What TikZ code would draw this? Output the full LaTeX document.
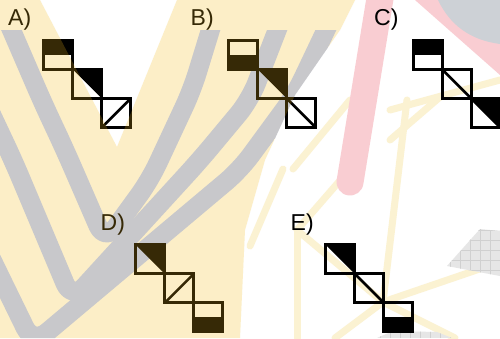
\documentclass[tikz,border=0pt]{standalone}
\usepackage{fontspec}
\setmainfont{Liberation Sans}
\definecolor{ybase}{RGB}{253,252,247}
\definecolor{gbase}{RGB}{186,203,252}
\definecolor{golden}{RGB}{250,190,30}
\definecolor{pinkbg}{RGB}{249,205,210}
\definecolor{graytr}{RGB}{205,209,214}
\definecolor{yline}{RGB}{251,242,210}
\definecolor{gridfill}{RGB}{230,230,230}
\definecolor{gridline}{RGB}{208,208,208}
\begin{document}
\begin{tikzpicture}[x=1pt,y=-1pt,
  sq/.style={draw=black, line width=3pt, minimum size=29pt, inner sep=0pt, outer sep=0pt},
  diag/.style={line width=2.6pt},
  lbl/.style={font=\fontsize{23}{27}\selectfont, inner sep=0pt, anchor=base west},
  wline/.style={draw=yline, line width=7pt, line cap=round},
  band/.style={draw=gbase, line width=19pt, line join=round, rounded corners=18pt}
]
\useasboundingbox (0,0) rectangle (500,338);
\fill[white] (0,0) rectangle (500,338);
\def\yregion{(0,0) -- (40,0) -- (117,147) -- (177,0) -- (355,0) -- (340,30) -- (295,95)
  -- (265,160) -- (245,230) -- (240,338) -- (0,338) -- cycle}
% ---- background watermark ----
\fill[ybase] \yregion;
\begin{scope}
  \clip \yregion;
  \clip (0,30) rectangle (500,338);
  \draw[band] (5,15) -- (43,103) -- (65,150) -- (105,242) -- (150,180) -- (192,90) -- (215,15);
  \draw[band] (-20,90) -- (13,160) -- (72,300) -- (200,160) -- (250,100) -- (283,15);
  \draw[band] (-25,225) -- (33,344) -- (240,170) -- (295,95) -- (333,15);
\end{scope}
% thin yellow lines
\draw[wline] (407,100) -- (383,302);
\draw[wline] (383,302) -- (500,262);
\draw[wline] (383,302) -- (335,338);
\draw[wline] (383,302) -- (455,338);
\draw[wline] (297,230) -- (383,302);
\draw[wline] (297,230) -- (297,338);
\draw[wline] (297,230) -- (350,169);
\draw[wline] (293,169) -- (350,100);
\draw[wline] (390,110) -- (500,80);
\draw[wline] (250,246) -- (283,169);
\draw[wline] (390,140) -- (440,97);
% pink bands
\draw[pinkbg, line width=27pt, line cap=round] (383,-20) -- (350,182);
\fill[pinkbg] (415,0) -- (440,0) -- (500,42) -- (500,75) -- cycle;
\fill[graytr] (438,0) -- (500,0) -- (500,44) .. controls (470,40) and (450,25) .. (438,0) -- cycle;
% grid patches
\begin{scope}
  \clip (447,266) -- (480,229) -- (500,231) -- (500,276) -- cycle;
  \fill[gridfill] (440,220) rectangle (500,280);
  \draw[gridline, line width=0.8pt, step=10pt] (440,220) grid (500,280);
\end{scope}
\begin{scope}
  \clip (377,338) -- (393,331) -- (437,332) -- (452,338) -- cycle;
  \fill[gridfill] (370,325) rectangle (460,338);
  \draw[gridline, line width=0.8pt, step=10pt] (370,325) grid (460,338);
\end{scope}
% ---- labels ----
\node[lbl] (la) at (8,25) {A)};
\node[lbl] (lb) at (190.5,25) {B)};
\node[lbl] (lc) at (374,25) {C)};
\node[lbl] (ld) at (100.5,230) {D)};
\node[lbl] (le) at (290.5,230) {E)};
% ---- A ----
\node[sq] (A1) at (58.3,55) {};
\node[sq] (A2) at (87.3,84) {};
\node[sq] (A3) at (116.3,113) {};
\fill (A1.north west) rectangle (A1.east);
\fill (A2.north west) -- (A2.north east) -- (A2.south east) -- cycle;
\draw[diag] (A3.south west) -- (A3.north east);
% ---- B ----
\node[sq] (B1) at (243.3,55) {};
\node[sq] (B2) at (272.3,84) {};
\node[sq] (B3) at (301.3,113) {};
\fill (B1.west) rectangle (B1.south east);
\fill (B2.north west) -- (B2.north east) -- (B2.south east) -- cycle;
\draw[diag] (B3.north west) -- (B3.south east);
% ---- C ----
\node[sq] (C1) at (427.7,55) {};
\node[sq] (C2) at (456.7,84) {};
\node[sq] (C3) at (485.7,113) {};
\fill (C1.north west) rectangle (C1.east);
\draw[diag] (C2.north west) -- (C2.south east);
\fill (C3.north west) -- (C3.north east) -- (C3.south east) -- cycle;
\draw[diag] (C3.north west) -- (C3.south east);
% ---- D ----
\node[sq] (D1) at (150.3,259.3) {};
\node[sq] (D2) at (179.3,288.3) {};
\node[sq] (D3) at (208.3,317.3) {};
\fill (D1.north west) -- (D1.north east) -- (D1.south east) -- cycle;
\draw[diag] (D2.south west) -- (D2.north east);
\fill (D3.west) rectangle (D3.south east);
% ---- E ----
\node[sq] (E1) at (340.3,259.3) {};
\node[sq] (E2) at (369.3,288.3) {};
\node[sq] (E3) at (398.3,317.3) {};
\fill (E1.north west) -- (E1.north east) -- (E1.south east) -- cycle;
\draw[diag] (E2.north west) -- (E2.south east);
\fill (E3.west) rectangle (E3.south east);
% ---- translucent watermark tint on top ----
\fill[golden, fill opacity=0.22] \yregion;
\end{tikzpicture}
\end{document}
